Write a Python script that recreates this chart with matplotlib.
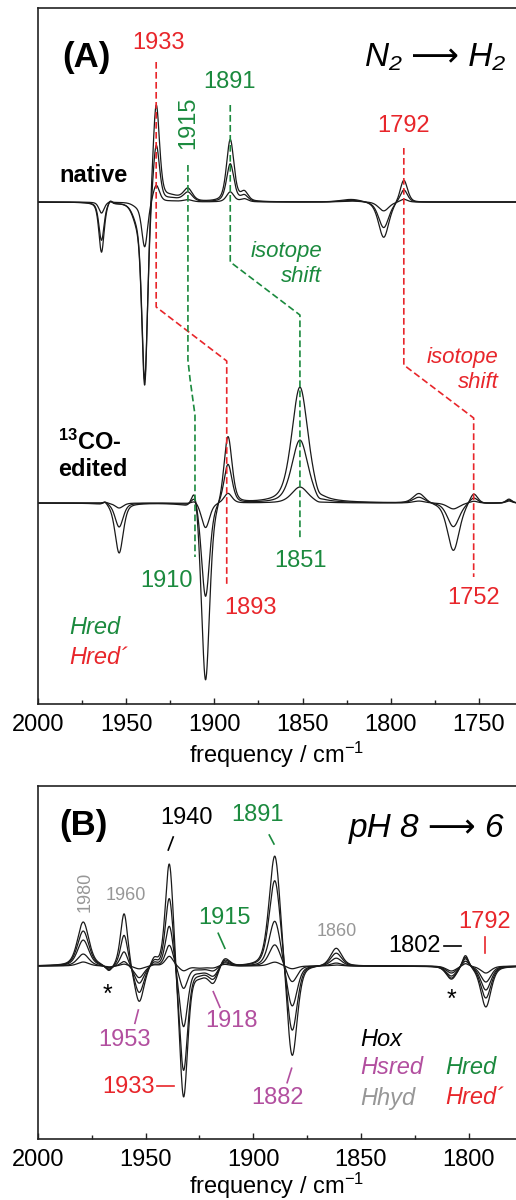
import numpy as np
import matplotlib
matplotlib.use("Agg")
import matplotlib.pyplot as plt
from matplotlib.ticker import MultipleLocator

plt.rcParams['font.family'] = ['Liberation Sans', 'DejaVu Sans']
plt.rcParams['mathtext.fontset'] = 'custom'
plt.rcParams['mathtext.rm'] = 'Liberation Sans'
plt.rcParams['mathtext.it'] = 'Liberation Sans:italic'
plt.rcParams['mathtext.bf'] = 'Liberation Sans:bold'
plt.rcParams['mathtext.fallback'] = 'stixsans'

RED = '#e8262b'
GREEN = '#1b8a3e'
PURPLE = '#b24f9f'
GRAY = '#979797'

# ---------------- data: panel A (N2 -> H2) ----------------
# band positions (cm-1), band widths (FWHM, cm-1), amplitudes per trace (a.u.)
native_pos = [1964, 1959, 1944, 1939.5, 1933, 1925, 1915, 1891, 1883, 1822, 1804, 1792.6]
native_fwhm = [3.5, 2.5, 6.0, 4.0, 4.5, 14.0, 6.0, 5.0, 5.0, 15.0, 7.0, 5.0]
native_amp = [
    [-50, 4, -15, -185, 102, 6, 12, 62, 9, 3, -36, 23],
    [-38, 3, -12, -178, 62, 4, 9, 38, 6, 2, -26, 13],
    [-11, 1, -3, -45, 18, 1, 2, 10, 3, 1, -9, 3],
]
native_offset = 502

edited_pos = [1962, 1954, 1911, 1905, 1892.3, 1851.5, 1841, 1784, 1764.5, 1753, 1733]
edited_fwhm = [3.0, 5.5, 4.5, 5.5, 5.5, 11.0, 4.0, 8.0, 8.0, 5.5, 4.0]
edited_amp = [
    [3, -50, 22, -180, 69, 116, -4, 10, -48, 11, 4],
    [2, -24, 11, -95, 40, 63, -3, 6, -24, 6, 3],
    [1, -5, 3, -25, 10, 16, -1, 2, -6, 2, 2],
]
edited_offset = 201

# ---------------- data: panel B (pH 8 -> 6) ----------------
ph_pos = [1979, 1967, 1960, 1953, 1946, 1939, 1932.4, 1925, 1918.5, 1913.5,
          1890, 1882, 1861.5, 1808, 1801.5, 1792]
ph_fwhm = [6.3, 4.0, 4.0, 5.3, 3.5, 4.4, 4.6, 7.0, 5.7, 5.7,
           6.3, 5.7, 6.2, 5.7, 3.5, 5.7]
ph_amp = [
    [44, -7, 54, -38, 8, 109, -135, -8, -17, 10, 115, -97, 18, -13, 13, -41],
    [35, -5, 32, -28, 6, 73, -107, -6, -13, 8, 89, -70, 13, -12, 11, -32],
    [26, -4, 15, -18, 4, 43, -62, -5, -10, 6, 47, -43, 8, -10, 9, -24],
    [12, -2, 5, -12, 2, 22, -23, -3, -5, 4, 22, -17, 3, -7, 6, -16],
    [4, -1, 2, -3, 1, 10, -5, -2, -2, 2, 4, -3, 1, -5, 3, -7],
]
ph_offset = 173


def band_sum(x, pos, fwhm, amp, eta=0.45):
    y = np.zeros_like(x)
    for p, w, a in zip(pos, fwhm, amp):
        d = (x - p) / w
        lor = 1.0 / (1.0 + 4.0 * d ** 2)
        gau = np.exp(-4.0 * np.log(2) * d ** 2)
        y += a * (eta * lor + (1 - eta) * gau)
    return y


W, H = 516, 1200
fig = plt.figure(figsize=(W / 100, H / 100), dpi=100)

axA = fig.add_axes([38 / W, 1 - 704 / H, 478 / W, 696 / H])
axB = fig.add_axes([38 / W, 1 - 1139 / H, 478 / W, 353 / H])

xA = np.linspace(2000, 1729, 2000)
xB = np.linspace(2000, 1778, 2000)

for amps in native_amp:
    axA.plot(xA, native_offset + band_sum(xA, native_pos, native_fwhm, amps), color='#1a1a1a', lw=0.9)
for amps in edited_amp:
    axA.plot(xA, edited_offset + band_sum(xA, edited_pos, edited_fwhm, amps), color='#1a1a1a', lw=0.9)
for amps in ph_amp:
    axB.plot(xB, ph_offset + band_sum(xB, ph_pos, ph_fwhm, amps), color='#1a1a1a', lw=0.9)

axA.set_xlim(2000, 1729)
axA.set_ylim(0, 696)
axB.set_xlim(2000, 1778)
axB.set_ylim(0, 353)

for ax, lp in ((axA, 3), (axB, 0)):
    ax.spines['right'].set_visible(False)
    for s in ('top', 'left', 'bottom'):
        ax.spines[s].set_linewidth(1.2)
        ax.spines[s].set_color('#222222')
    ax.set_yticks([])
    ax.xaxis.set_major_locator(MultipleLocator(50))
    ax.xaxis.set_minor_locator(MultipleLocator(25))
    ax.tick_params(axis='x', which='major', direction='in', length=4, width=1.0,
                   labelsize=17, pad=7, colors='#222222', labelcolor='black')
    ax.tick_params(axis='x', which='minor', direction='in', length=3, width=1.0, colors='#222222')
    ax.set_xlabel('frequency / cm$^{-1}$', fontsize=17, labelpad=lp)

ITAL = dict(style='italic', family=['Liberation Sans', 'DejaVu Sans'])
ARROW = '\u27f6'

# ---------------- panel A annotations ----------------
dash = dict(lw=1.2, ls=(0, (4, 2)))
axA.plot([1933, 1933, 1893, 1893], [642, 397, 343, 117], color=RED, **dash)
axA.plot([1915, 1915, 1913.8, 1911, 1911], [539, 344, 325, 289, 147], color=GREEN, **dash)
axA.plot([1891, 1891, 1851.5, 1851.5], [599, 442, 389, 166], color=GREEN, **dash)
axA.plot([1792.6, 1792.6, 1753, 1753], [556, 339, 286, 127], color=RED, **dash)

axA.text(1986.4, 647, '(A)', fontsize=25, fontweight='bold', ha='left', va='center')
axA.text(1735.4, 647, 'N\u2082 ' + ARROW + ' H\u2082', fontsize=24, ha='right', va='center', **ITAL)
axA.text(1931.4, 661, '1933', color=RED, fontsize=17, ha='center', va='center')
axA.text(1891.2, 622, '1891', color=GREEN, fontsize=17, ha='center', va='center')
axA.text(1915, 581, '1915', color=GREEN, fontsize=17, ha='center', va='center', rotation=90)
axA.text(1792.6, 578, '1792', color=RED, fontsize=17, ha='center', va='center')
axA.text(1988.1, 528, 'native', fontsize=17, fontweight='bold', ha='left', va='center')
axA.text(1839, 452, 'isotope', color=GREEN, fontsize=16, ha='right', va='center', **ITAL)
axA.text(1839, 427, 'shift', color=GREEN, fontsize=16, ha='right', va='center', **ITAL)
axA.text(1738.8, 347, 'isotope', color=RED, fontsize=16, ha='right', va='center', **ITAL)
axA.text(1738.8, 321, 'shift', color=RED, fontsize=16, ha='right', va='center', **ITAL)
axA.text(1988.7, 262, r'$\mathbf{^{13}CO}$-', fontsize=17, fontweight='bold', ha='left', va='center')
axA.text(1988.7, 234, 'edited', fontsize=17, fontweight='bold', ha='left', va='center')
axA.text(1926.9, 123, '1910', color=GREEN, fontsize=17, ha='center', va='center')
axA.text(1879.3, 96, '1893', color=RED, fontsize=17, ha='center', va='center')
axA.text(1851, 143, '1851', color=GREEN, fontsize=17, ha='center', va='center')
axA.text(1753, 106, '1752', color=RED, fontsize=17, ha='center', va='center')
axA.text(1982.4, 76, 'Hred', color=GREEN, fontsize=17, ha='left', va='center', **ITAL)
axA.text(1982.4, 47, 'Hred\u00b4', color=RED, fontsize=17, ha='left', va='center', **ITAL)

# ---------------- panel B annotations ----------------
axB.text(1990.3, 314, '(B)', fontsize=25, fontweight='bold', ha='left', va='center')
axB.text(1783.2, 311, 'pH 8 ' + ARROW + ' 6', fontsize=24, ha='right', va='center', **ITAL)

axB.text(1930.8, 321, '1940', color='black', fontsize=17, ha='center', va='center')
axB.plot([1939.5, 1937.2], [289, 302], color='black', lw=1.2)
axB.text(1897.9, 324, '1891', color=GREEN, fontsize=17, ha='center', va='center')
axB.plot([1892.6, 1890.4], [304, 295], color=GREEN, lw=1.2)
axB.text(1978.2, 247, '1980', color=GRAY, fontsize=13, ha='center', va='center', rotation=90)
axB.text(1959.3, 244, '1960', color=GRAY, fontsize=13, ha='center', va='center')
axB.text(1913.6, 221, '1915', color=GREEN, fontsize=17, ha='center', va='center')
axB.plot([1916.3, 1913.2], [205.7, 190.7], color=GREEN, lw=1.2)
axB.text(1861.2, 208, '1860', color=GRAY, fontsize=13, ha='center', va='center')
axB.text(1825.0, 193, '1802', color='black', fontsize=17, ha='center', va='center')
axB.plot([1811.5, 1803.6], [193, 193], color='black', lw=1.2)
axB.text(1792.5, 217, '1792', color=RED, fontsize=17, ha='center', va='center')
axB.plot([1792.5, 1792.5], [202, 186], color=RED, lw=1.2)
axB.text(1967.5, 137, '*', color='black', fontsize=18, ha='center', va='baseline')
axB.text(1807.8, 132, '*', color='black', fontsize=18, ha='center', va='baseline')
axB.text(1959.6, 99, '1953', color=PURPLE, fontsize=17, ha='center', va='center')
axB.plot([1955, 1953.4], [115.7, 129], color=PURPLE, lw=1.2)
axB.text(1909.9, 118, '1918', color=PURPLE, fontsize=17, ha='center', va='center')
axB.plot([1918.6, 1915.5], [147.3, 131.7], color=PURPLE, lw=1.2)
axB.text(1958.2, 52, '1933', color=RED, fontsize=17, ha='center', va='center')
axB.plot([1944.9, 1936.9], [53, 53], color=RED, lw=1.2)
axB.text(1889, 41, '1882', color=PURPLE, fontsize=17, ha='center', va='center')
axB.plot([1884.3, 1882.2], [56.3, 70.7], color=PURPLE, lw=1.2)

axB.text(1850.5, 100, 'Hox', color='black', fontsize=17, ha='left', va='center', **ITAL)
axB.text(1850.5, 71, 'Hsred', color=PURPLE, fontsize=17, ha='left', va='center', **ITAL)
axB.text(1850.5, 41, 'Hhyd', color=GRAY, fontsize=17, ha='left', va='center', **ITAL)
axB.text(1811, 71, 'Hred', color=GREEN, fontsize=17, ha='left', va='center', **ITAL)
axB.text(1811, 41, 'Hred\u00b4', color=RED, fontsize=17, ha='left', va='center', **ITAL)

fig.savefig('out.png', dpi=100)
